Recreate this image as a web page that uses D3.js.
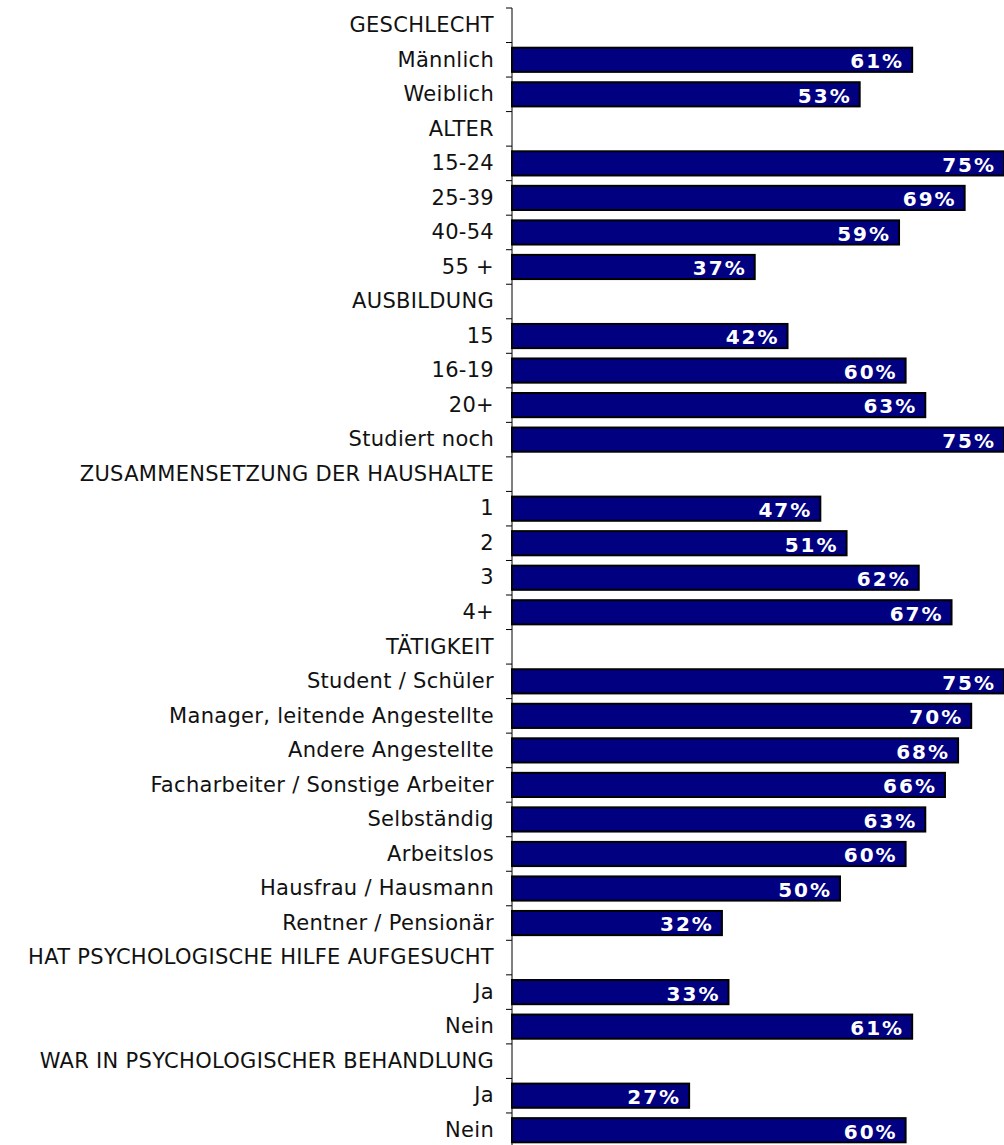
<!DOCTYPE html>
<html>
<head>
<meta charset="utf-8">
<script src="https://cdn.jsdelivr.net/npm/d3@7"></script>
<style>
  body { margin: 0; background: #fff; }
  svg { display: block; }
</style>
</head>
<body>
<svg id="chart" width="1004" height="1145"></svg>
<script>
// rows top to bottom, headers have no value
var categories = [
  "GESCHLECHT", "Männlich", "Weiblich",
  "ALTER", "15-24", "25-39", "40-54", "55 +",
  "AUSBILDUNG", "15", "16-19", "20+", "Studiert noch",
  "ZUSAMMENSETZUNG DER HAUSHALTE", "1", "2", "3", "4+",
  "TÄTIGKEIT", "Student / Schüler", "Manager, leitende Angestellte", "Andere Angestellte",
  "Facharbeiter / Sonstige Arbeiter", "Selbständig", "Arbeitslos", "Hausfrau / Hausmann", "Rentner / Pensionär",
  "HAT PSYCHOLOGISCHE HILFE AUFGESUCHT", "Ja", "Nein",
  "WAR IN PSYCHOLOGISCHER BEHANDLUNG", "Ja", "Nein"
];
var values = [
  null, 61, 53,
  null, 75, 69, 59, 37,
  null, 42, 60, 63, 75,
  null, 47, 51, 62, 67,
  null, 75, 70, 68, 66, 63, 60, 50, 32,
  null, 33, 61,
  null, 27, 60
];

var rows = categories.map(function(c, i){
  return {key: i, label: c, value: values[i]};
});

var svg = d3.select("#chart");

var marginLeft = 512, marginTop = 8, step = 34.53;

// band scale over row index so duplicate labels (Ja / Nein) stay apart
var y = d3.scaleBand()
  .domain(rows.map(function(d){ return d.key; }))
  .range([marginTop, marginTop + step * rows.length])
  .paddingInner(0.3)
  .paddingOuter(0.15);

var x = d3.scaleLinear().domain([0, 75]).range([marginLeft, 1004]);

var yAxis = d3.axisLeft(y)
  .tickSize(0)
  .tickPadding(18)
  .tickFormat(function(k){ return rows[k].label; });

var gAxis = svg.append("g")
  .attr("transform", "translate(" + marginLeft + ",0)")
  .call(yAxis);

gAxis.select(".domain").remove();
gAxis.selectAll("text")
  .attr("font-family", "'DejaVu Sans', Verdana, sans-serif")
  .attr("font-size", 21)
  .attr("letter-spacing", 0.3)
  .attr("fill", "#111");

// axis line and ticks on the band boundaries
svg.append("line")
  .attr("x1", marginLeft).attr("x2", marginLeft)
  .attr("y1", marginTop).attr("y2", 1145)
  .attr("stroke", "#000").attr("stroke-width", 1);

var bounds = d3.range(rows.length + 1).map(function(i){ return marginTop + i * y.step(); });
svg.selectAll(".tk")
  .data(bounds)
  .enter().append("line")
  .attr("x1", marginLeft - 6).attr("x2", marginLeft)
  .attr("y1", function(d){ return d; })
  .attr("y2", function(d){ return d; })
  .attr("stroke", "#000");

var data = rows.filter(function(d){ return d.value != null; });

svg.selectAll(".bar")
  .data(data)
  .enter().append("rect")
  .attr("x", marginLeft)
  .attr("y", function(d){ return y(d.key); })
  .attr("width", function(d){ return x(d.value) - marginLeft; })
  .attr("height", y.bandwidth())
  .attr("fill", "#000080")
  .attr("stroke", "#000")
  .attr("stroke-width", 2);

svg.selectAll(".val")
  .data(data)
  .enter().append("text")
  .attr("x", function(d){ return x(d.value) - 8; })
  .attr("y", function(d){ return y(d.key) + y.bandwidth() / 2; })
  .attr("dy", "0.42em")
  .attr("text-anchor", "end")
  .attr("font-family", "'DejaVu Sans', Verdana, sans-serif")
  .attr("font-weight", "bold")
  .attr("font-size", 20)
  .attr("letter-spacing", 2)
  .attr("fill", "#fff")
  .text(function(d){ return d.value + "%"; });
</script>
</body>
</html>
